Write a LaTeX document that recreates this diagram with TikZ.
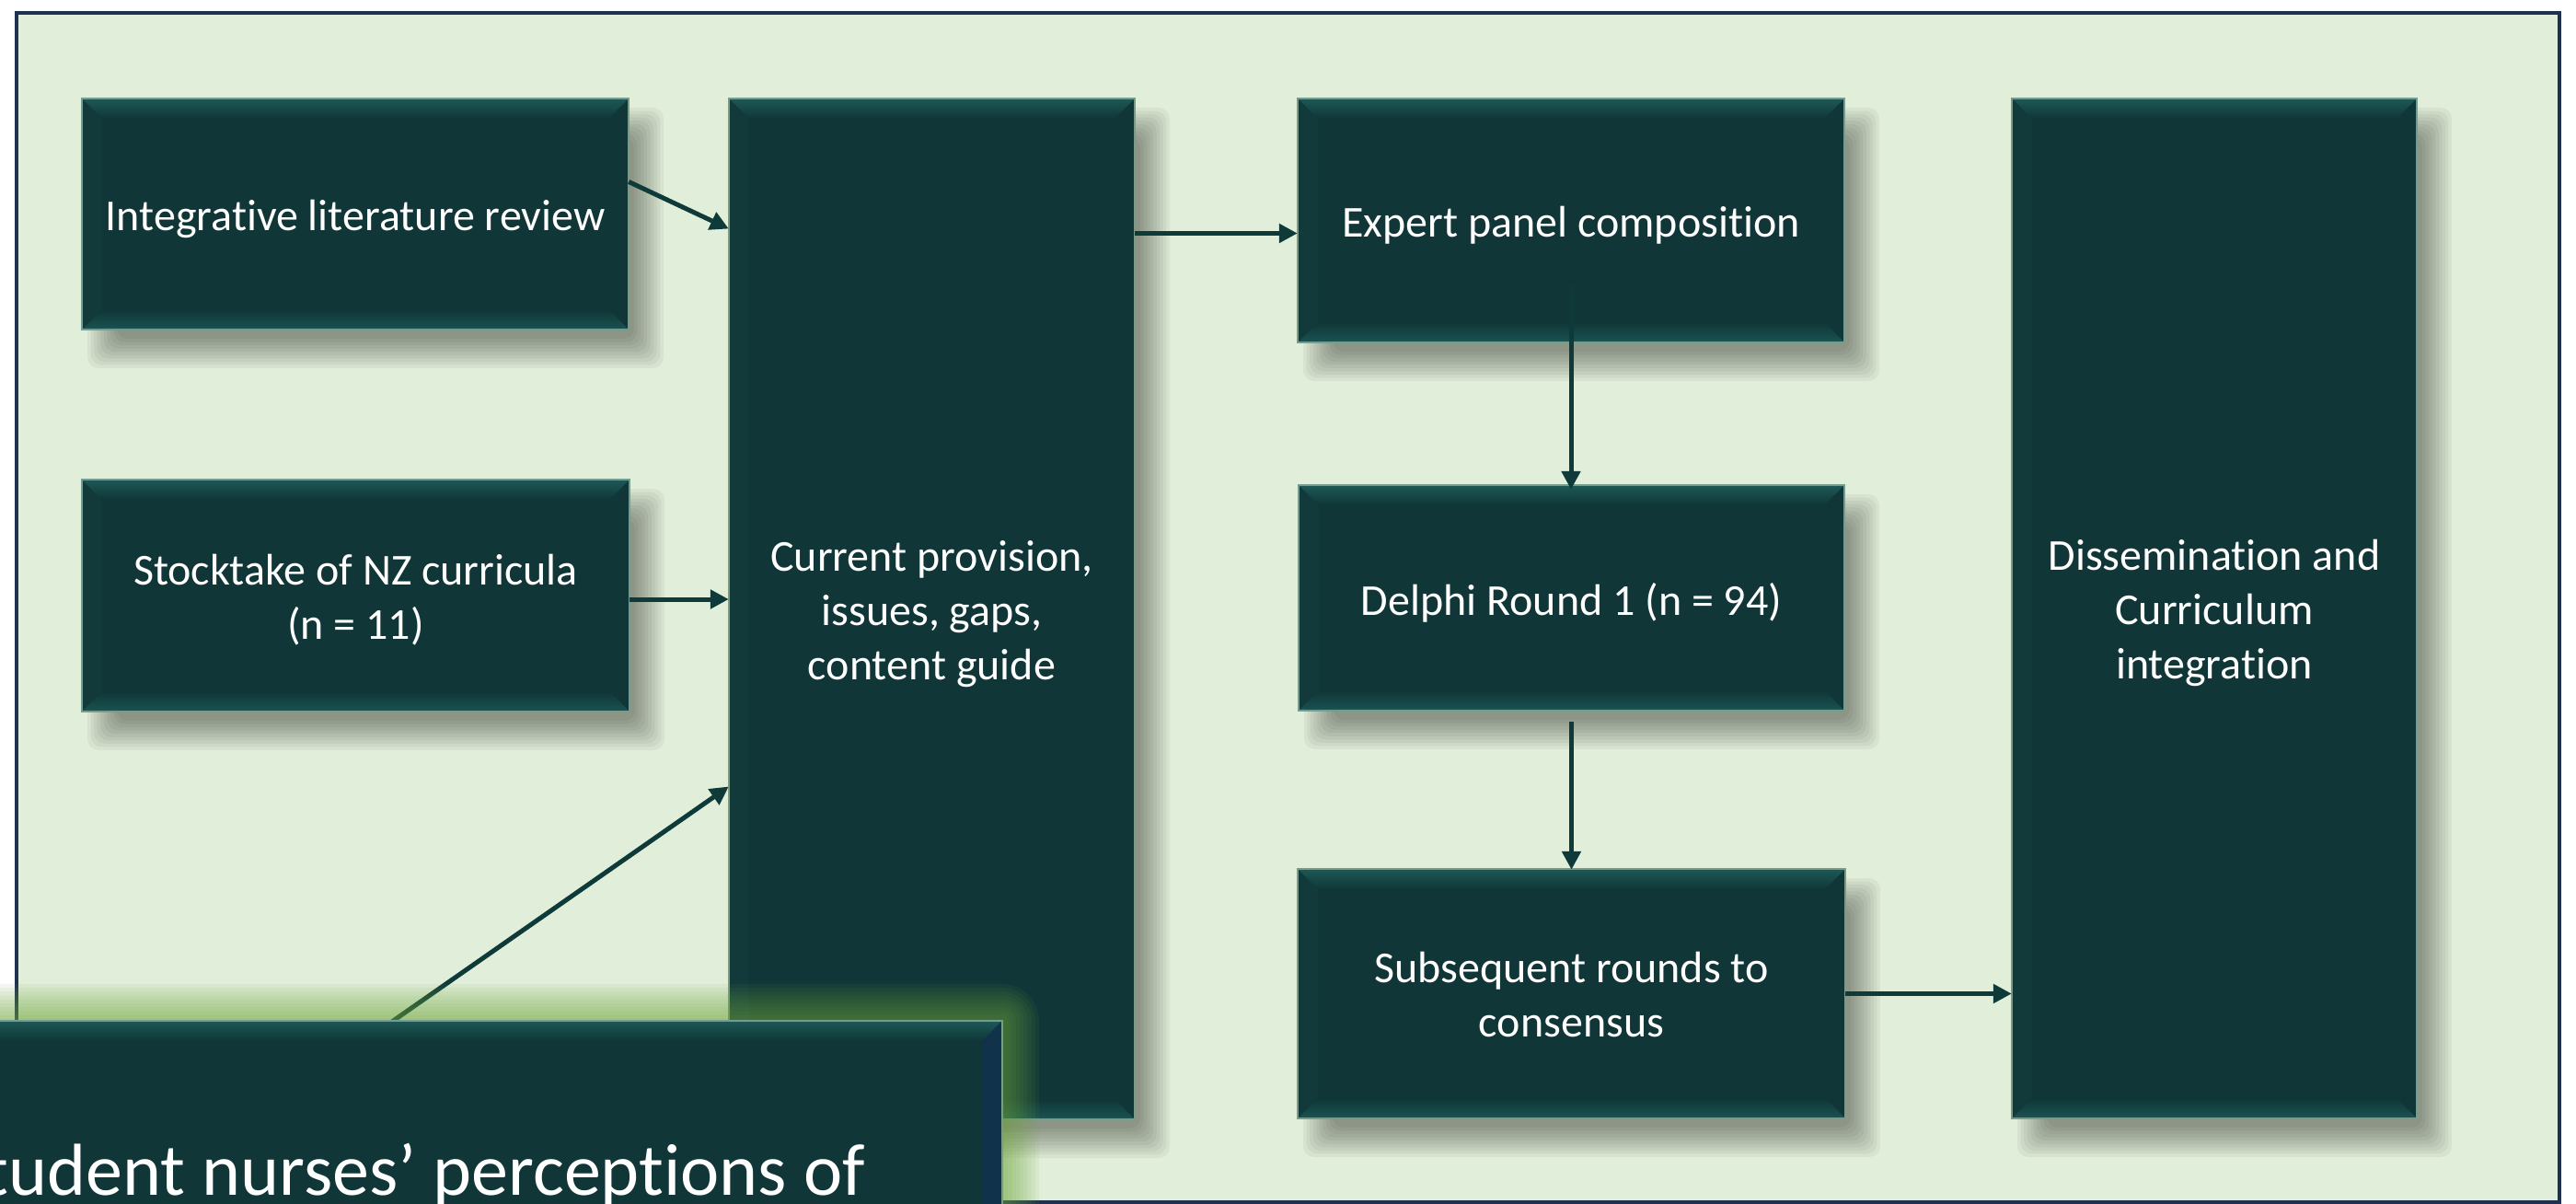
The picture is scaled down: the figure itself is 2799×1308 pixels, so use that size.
\documentclass[tikz,border=0pt]{standalone}
\usepackage{fontspec}
\setmainfont{Carlito}[Ligatures={NoCommon}]
\usetikzlibrary{arrows.meta}
\definecolor{pagebg}{RGB}{225,238,217}
\definecolor{framecol}{RGB}{31,48,80}
\definecolor{boxbody}{RGB}{16,54,55}
\definecolor{bevtop}{RGB}{29,89,87}
\definecolor{bevbot}{RGB}{27,83,82}
\definecolor{bevside}{RGB}{18,58,59}
\definecolor{edgecol}{RGB}{120,156,140}
\definecolor{arrowcol}{RGB}{15,58,58}
\definecolor{glowcol}{RGB}{110,165,60}
\tikzset{
  boxtext/.style={inner sep=0pt, text=white, align=center, font=\fontsize{48}{59}\selectfont},
  conn/.style={draw=arrowcol, line width=5pt, -{Triangle[length=20pt,width=20pt]}},
  edge/.style={draw=edgecol, line width=1.2pt},
}
\newcommand\bevbox[7]{%
  \foreach \k in {0,...,9}{%
    \pgfmathsetmacro\e{16-3.56*\k}%
    \fill[black, opacity=0.044, rounded corners=12pt] ({#2+22-\e},{#3+26-\e}) rectangle ({#4+22+\e},{#5+26+\e});
  }%
  \fill[boxbody] (#2,#3) rectangle (#4,#5);
  \fill[bevside] (#2,#3) -- ({#2+22},{#3+22}) -- ({#2+22},{#5-22}) -- (#2,#5) -- cycle;
  \shade[top color=bevtop, bottom color=boxbody] (#2,#3) -- (#4,#3) -- ({#4-22},{#3+22}) -- ({#2+22},{#3+22}) -- cycle;
  \shade[top color=boxbody, bottom color=bevbot] ({#2+22},{#5-22}) -- ({#4-22},{#5-22}) -- (#4,#5) -- (#2,#5) -- cycle;
  \draw[edge] (#2,#3) rectangle (#4,#5);
  \node[boxtext, minimum width={#4-#2}, minimum height={#5-#3}] (#1) at ({(#2+#4)/2},{(#3+#5)/2+#7}) {#6};
}
\begin{document}
\begin{tikzpicture}[x=1pt,y=-1pt]
\useasboundingbox (0,0) rectangle (2799,1308);
\clip (0,0) rectangle (2799,1308);
\fill[white] (0,0) rectangle (2799,1308);
\fill[pagebg] (18,14) rectangle (2781,1306);
\draw[framecol, line width=4pt] (18,14) rectangle (2781,1306);

\bevbox{lit}{89}{107}{683}{358}{Integrative literature review}{5}
\bevbox{stock}{89}{521}{684}{773}{Stocktake of NZ curricula\\(n = 11)}{5}
\bevbox{cur}{792}{107}{1233}{1216}{Current provision,\\issues, gaps,\\content guide}{6}
\bevbox{exp}{1410}{107}{2004}{372}{Expert panel composition}{5}
\bevbox{del}{1411}{527}{2004}{772}{Delphi Round 1 (n = 94)}{5}
\bevbox{sub}{1410}{944}{2005}{1215}{Subsequent rounds to\\consensus}{1}
\bevbox{dis}{2186}{107}{2626}{1215}{Dissemination and\\Curriculum\\integration}{5}

\coordinate (nurse) at (400,1128);
\draw[conn] ([yshift=40pt]lit.east) -- ([yshift=419pt]cur.west);
\draw[conn] ([yshift=1pt]stock.east) -- ([yshift=1pt]stock.east -| cur.west);
\draw[conn] (nurse) -- ([yshift=-187pt]cur.west);
\draw[conn] ([yshift=414pt]cur.east) -- ([yshift=414pt]cur.east -| exp.west);
\draw[conn] ([yshift=-64pt]exp.center) -- (exp.center |- del.north);
\draw[conn] ([yshift=-7pt]del.south) -- (del.south |- sub.north);
\draw[conn] ([yshift=1pt]sub.east) -- ([yshift=1pt]sub.east -| dis.west);

% glow of the overlay box
\foreach \k in {0,...,9}{%
  \pgfmathsetmacro\e{40-4.2*\k}%
  \fill[glowcol, opacity=0.08, rounded corners={\e pt}] ({-80-\e},{1109-\e}) rectangle ({1089+\e},{1420});
}
\fill[boxbody] (-80,1109) rectangle (1089,1420);
\shade[top color=bevtop, bottom color=boxbody] (-80,1109) -- (1089,1109) -- (1067,1131) -- (-80,1131) -- cycle;
\fill[bevside!85!blue!60!boxbody] (1089,1109) -- (1067,1131) -- (1067,1420) -- (1089,1420) -- cycle;
\draw[edge] (-80,1109) -- (1089,1109) -- (1089,1420);
\node[inner sep=0pt, text=white, anchor=base east, font=\fontsize{80}{96}\selectfont] (nursetxt) at (940,1298) {Student nurses’ perceptions of};
\end{tikzpicture}
\end{document}
